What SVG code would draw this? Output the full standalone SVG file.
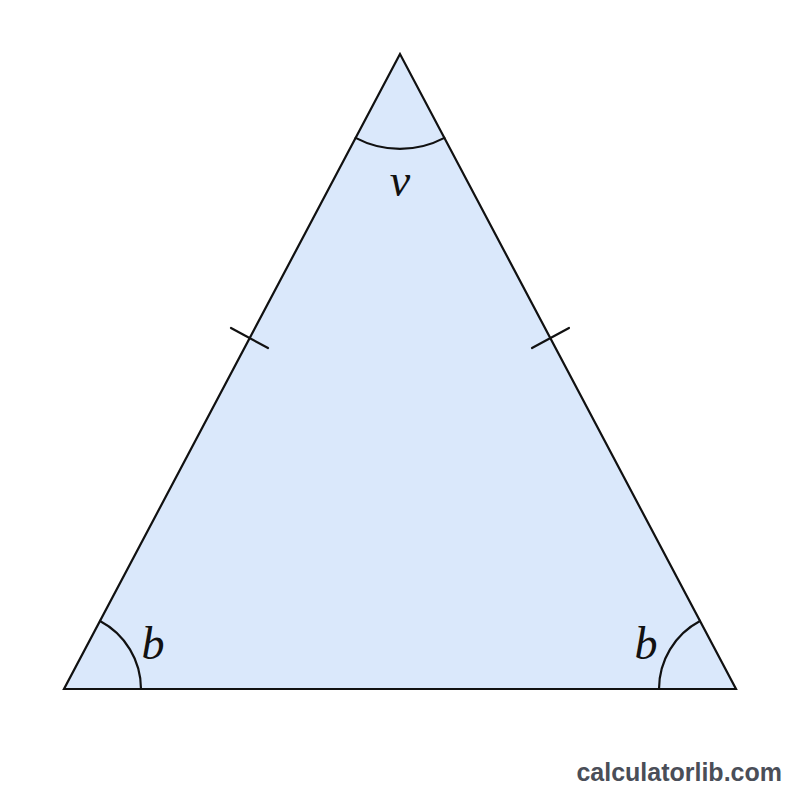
<svg xmlns="http://www.w3.org/2000/svg" width="800" height="800" viewBox="0 0 800 800">
<style>
.ln{fill:none;stroke:#111;stroke-width:2.2;stroke-linecap:round}
.lbl{font-family:"Liberation Serif","DejaVu Serif",serif;font-style:italic;font-size:46px;fill:#111;text-anchor:middle}
</style>
<rect width="800" height="800" fill="#fff"/>
<g id="triangle">
<polygon points="400,54 64,689 736,689" fill="#dae8fb" stroke="#111" stroke-width="2.2" stroke-linejoin="miter"/>
</g>
<g id="angles">
<path class="ln" d="M355.6,137.9 A95,95 0 0 0 444.4,137.9"/>
<path class="ln" d="M100,621 A77,77 0 0 1 141,689"/>
<path class="ln" d="M700,621 A77,77 0 0 0 659,689"/>
</g>
<g id="ticks">
<line class="ln" x1="231" y1="328" x2="268" y2="348"/>
<line class="ln" x1="532" y1="348" x2="569" y2="328"/>
</g>
<g id="labels">
<text class="lbl" x="400" y="196" font-size="50">v</text>
<text class="lbl" x="153" y="659">b</text>
<text class="lbl" x="646" y="659">b</text>
</g>
<text x="782" y="781" font-family="Liberation Sans,Arial,sans-serif" font-weight="bold" font-size="25" fill="#4a4e58" text-anchor="end">calculatorlib.com</text>
</svg>
